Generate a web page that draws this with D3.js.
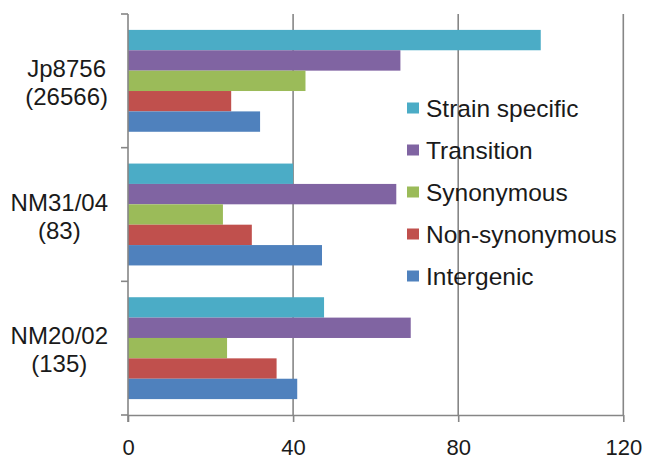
<!DOCTYPE html>
<html>
<head>
<meta charset="utf-8">
<script src="https://cdn.jsdelivr.net/npm/d3@7"></script>
<style>
  body { margin: 0; background: #fff; }
  svg text { font-family: "Liberation Sans", Arial, sans-serif; fill: #1a1a1a; }
</style>
</head>
<body>
<svg id="chart" width="645" height="461"></svg>
<script>
// categories top to bottom, each label split into lines
const categories = ['Jp8756 (26566)', 'NM31/04 (83)', 'NM20/02 (135)'];
const categoryLines = [['Jp8756', '(26566)'], ['NM31/04', '(83)'], ['NM20/02', '(135)']];

// series, in top-to-bottom order inside each group
const seriesNames = ['Strain specific', 'Transition', 'Synonymous', 'Non-synonymous', 'Intergenic'];
const seriesColors = ['#4BACC6', '#8064A2', '#9BBB59', '#C0504D', '#4F81BD'];

// values per category, in series order
const jp8756Values = [100, 66, 43, 25, 32];
const nm3104Values = [40, 65, 23, 30, 47];
const nm2002Values = [47.5, 68.5, 24, 36, 41];
const allValues = [jp8756Values, nm3104Values, nm2002Values];

const xTicks = [0, 40, 80, 120];

const margin = {top: 14, right: 22, bottom: 46, left: 128};
const width = 645, height = 461;

const svg = d3.select('#chart');

const x = d3.scaleLinear()
    .domain([0, 120])
    .range([margin.left, width - margin.right + 0.3]);

const y = d3.scaleBand()
    .domain(categories)
    .range([margin.top, height - margin.bottom])
    .padding(0);

const ySub = d3.scaleBand()
    .domain(seriesNames)
    .range([0, y.bandwidth()])
    .paddingInner(0)
    .paddingOuter(0.78);

const color = d3.scaleOrdinal().domain(seriesNames).range(seriesColors);

const axisColor = '#868686';
const y0 = height - margin.bottom;

// vertical gridlines
svg.append('g')
    .selectAll('line')
    .data(xTicks.filter(d => d > 0))
    .join('line')
    .attr('x1', d => x(d)).attr('x2', d => x(d))
    .attr('y1', margin.top).attr('y2', y0)
    .attr('stroke', axisColor)
    .attr('stroke-width', 1.6);

// bars
const rows = categories.map((c, i) => ({cat: c, values: allValues[i]}));

svg.append('g')
    .selectAll('g')
    .data(rows)
    .join('g')
    .attr('transform', d => `translate(0,${y(d.cat)})`)
    .selectAll('rect')
    .data(d => d.values.map((v, j) => ({name: seriesNames[j], value: v})))
    .join('rect')
    .attr('x', x(0))
    .attr('y', d => ySub(d.name))
    .attr('width', d => x(d.value) - x(0))
    .attr('height', ySub.bandwidth())
    .attr('fill', d => color(d.name));

// bottom axis
const xAxis = svg.append('g')
    .attr('transform', `translate(0,${y0})`)
    .call(d3.axisBottom(x).tickValues(xTicks).tickSize(7).tickPadding(17).tickSizeOuter(0));
xAxis.select('.domain').attr('stroke', axisColor).attr('stroke-width', 1.6);
xAxis.selectAll('.tick line').attr('stroke', axisColor).attr('stroke-width', 1.6);
xAxis.selectAll('.tick text')
    .attr('fill', '#1a1a1a')
    .style('font-size', '22px');

// left axis: line with ticks at band boundaries
const yEdges = categories.map(c => y(c)).concat([y0]);
const leftAxis = svg.append('g');
leftAxis.append('line')
    .attr('x1', x(0)).attr('x2', x(0))
    .attr('y1', margin.top).attr('y2', y0 + 7)
    .attr('stroke', axisColor).attr('stroke-width', 1.6);
leftAxis.selectAll('.ytick')
    .data(yEdges)
    .join('line')
    .attr('class', 'ytick')
    .attr('x1', x(0) - 7).attr('x2', x(0))
    .attr('y1', d => d).attr('y2', d => d)
    .attr('stroke', axisColor).attr('stroke-width', 1.6);

// category labels: block right-aligned to the axis, lines centered in the block
const labelRight = 108;
categories.forEach((c, i) => {
    const g = svg.append('g');
    const cy = y(c) + y.bandwidth() / 2;
    const lines = categoryLines[i];
    const texts = g.selectAll('text')
        .data(lines)
        .join('text')
        .attr('text-anchor', 'middle')
        .attr('y', (d, k) => cy + 10 + (k - (lines.length - 1) / 2) * 28)
        .style('font-size', '24px')
        .text(d => d);
    let maxW = 0;
    texts.each(function () { maxW = Math.max(maxW, this.getComputedTextLength()); });
    texts.attr('x', labelRight - maxW / 2);
});

// legend
const legend = svg.append('g')
    .attr('transform', 'translate(407,108)');
const items = legend.selectAll('g')
    .data(seriesNames)
    .join('g')
    .attr('transform', (d, i) => `translate(0,${i * 42})`);
items.append('rect')
    .attr('x', 0).attr('y', -5.5)
    .attr('width', 12).attr('height', 11)
    .attr('fill', d => color(d));
items.append('text')
    .attr('x', 19)
    .attr('y', 8.5)
    .style('font-size', '24.5px')
    .text(d => d);
</script>
</body>
</html>
